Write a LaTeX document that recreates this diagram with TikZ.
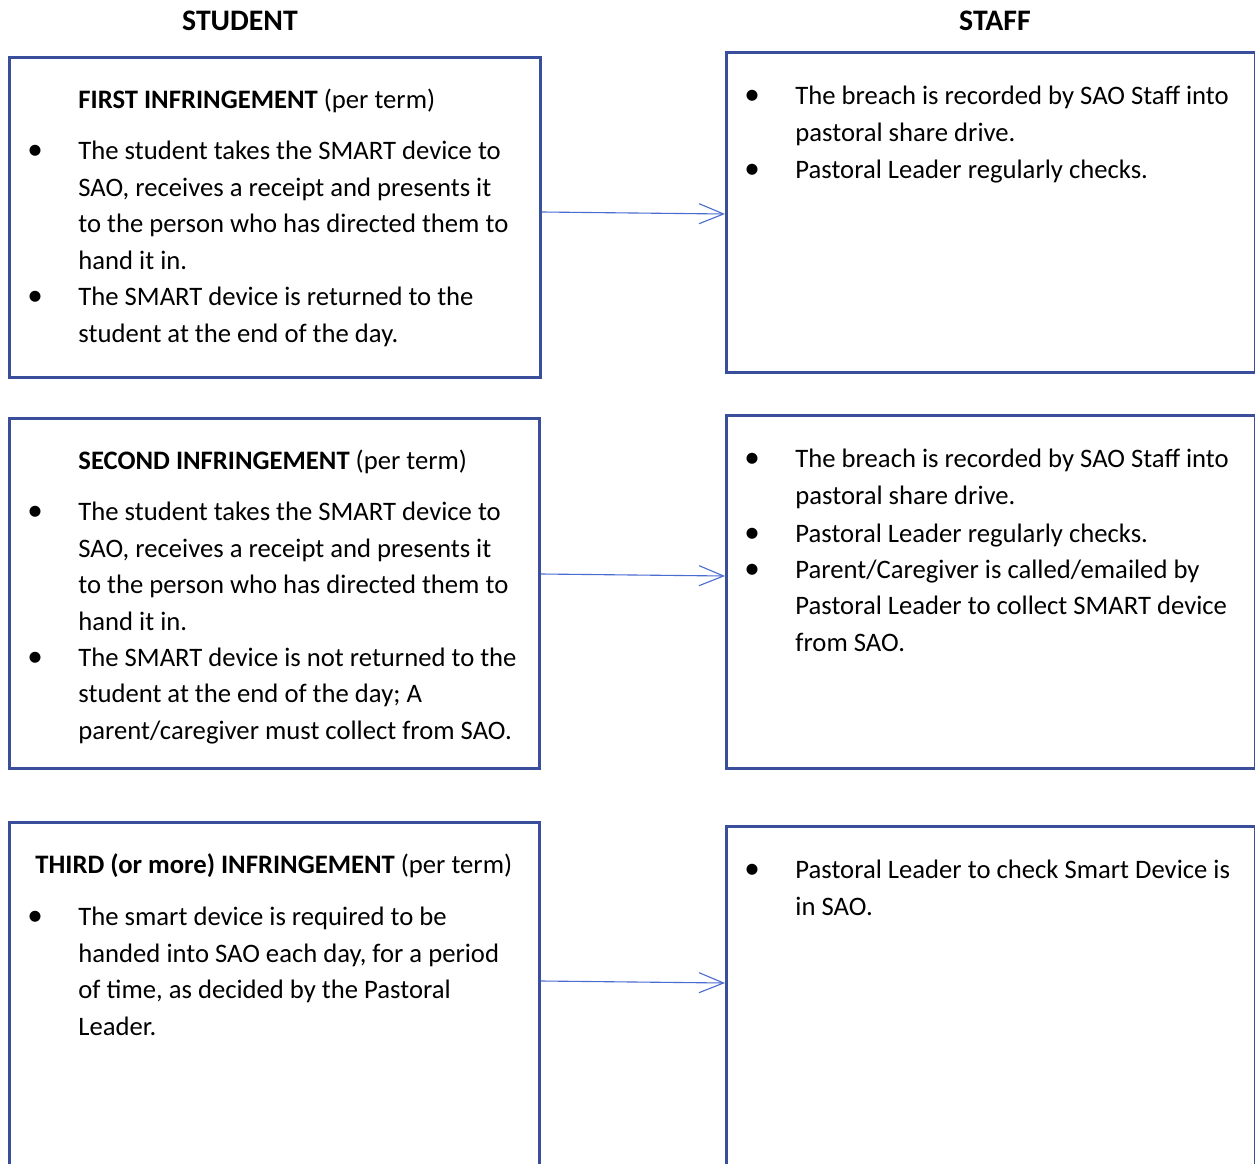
\documentclass[tikz,border=0pt]{standalone}
\usepackage{fontspec}
\setmainfont{Carlito}
\usetikzlibrary{arrows.meta}
\definecolor{boxblue}{HTML}{3A4F9C}
\definecolor{linkblue}{HTML}{4A6BD0}
\newcommand{\bul}{\llap{{\fontsize{14}{14}\selectfont\textbullet}\hspace{16pt}}}

\begin{document}
\begin{tikzpicture}[x=0.45pt,y=-0.45pt,
  box/.style={draw=boxblue,line width=1.2pt,anchor=north west,inner sep=0pt},
  txt/.style={anchor=base west,inner sep=0pt,align=left,font=\fontsize{12}{16.4}\selectfont},
  head/.style={anchor=base,inner sep=0pt,font=\fontsize{13.4}{15}\selectfont\bfseries},
  link/.style={draw=linkblue,line width=0.5pt,-{Straight Barb[length=11pt,width=9pt]}}]
\useasboundingbox (0,0) rectangle (1255,1164);
\clip (0,0) rectangle (1255,1164);
\node[head] (student) at (240,30) {STUDENT};
\node[head] (staff) at (995,30) {STAFF};

\node[box,minimum width=531*0.45pt,minimum height=320*0.45pt] (l1) at (8,56) {};
\node[box,minimum width=529*0.45pt,minimum height=320*0.45pt] (r1) at (725,51) {};
\node[box,minimum width=530*0.45pt,minimum height=350*0.45pt] (l2) at (8,417) {};
\node[box,minimum width=529*0.45pt,minimum height=353*0.45pt] (r2) at (725,414) {};
\node[box,minimum width=530*0.45pt,minimum height=360*0.45pt] (l3) at (8,821) {};
\node[box,minimum width=529*0.45pt,minimum height=360*0.45pt] (r3) at (725,825) {};

\node[txt] (l1t) at (78,108) {\textbf{FIRST INFRINGEMENT} (per term)};
\node[txt] (l1a) at (78,269) {\bul The student takes the SMART device to\\SAO, receives a receipt and presents it\\to the person who has directed them to\\hand it in.};
\node[txt] (l1b) at (78,342) {\bul The SMART device is returned to the\\student at the end of the day.};

\node[txt] (l2t) at (78,469) {\textbf{SECOND INFRINGEMENT} (per term)};
\node[txt] (l2a) at (78,630) {\bul The student takes the SMART device to\\SAO, receives a receipt and presents it\\to the person who has directed them to\\hand it in.};
\node[txt] (l2b) at (78,739) {\bul The SMART device is not returned to the\\student at the end of the day; A\\parent/caregiver must collect from SAO.};

\node[txt] (l3t) at (35,873) {\textbf{THIRD (or more) INFRINGEMENT} (per term)};
\node[txt] (l3a) at (78,1035) {\bul The smart device is required to be\\handed into SAO each day, for a period\\of time, as decided by the Pastoral\\Leader.};

\node[txt] (r1a) at (795,141) {\bul The breach is recorded by SAO Staff into\\pastoral share drive.};
\node[txt] (r1b) at (795,178) {\bul Pastoral Leader regularly checks.};

\node[txt] (r2a) at (795,504) {\bul The breach is recorded by SAO Staff into\\pastoral share drive.};
\node[txt] (r2b) at (795,542) {\bul Pastoral Leader regularly checks.};
\node[txt] (r2c) at (795,651) {\bul Parent/Caregiver is called/emailed by\\Pastoral Leader to collect SMART device\\from SAO.};

\node[txt] (r3a) at (795,915) {\bul Pastoral Leader to check Smart Device is\\in SAO.};

\draw[link] (l1.east |- 0,212) -- (r1.west |- 0,214);
\draw[link] (l2.east |- 0,574) -- (r2.west |- 0,576);
\draw[link] (l3.east |- 0,981) -- (r3.west |- 0,983);
\end{tikzpicture}
\end{document}
